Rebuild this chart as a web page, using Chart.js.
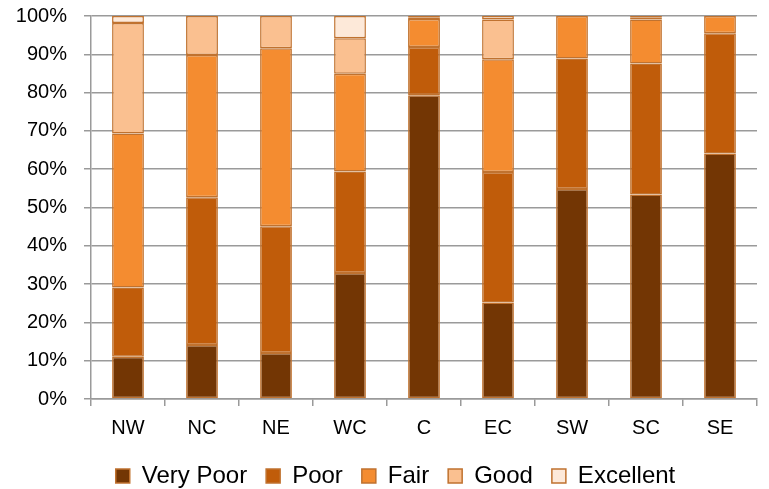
<!DOCTYPE html>
<html>
<head>
<meta charset="utf-8">
<script src="https://cdn.jsdelivr.net/npm/chart.js@4/dist/chart.umd.min.js"></script>
<style>
  html, body { margin: 0; padding: 0; background: #fff; overflow: hidden; }
  #wrap { width: 769px; height: 489px; position: relative; }
</style>
</head>
<body>
<div id="wrap"><canvas id="chart"></canvas></div>
<script>
const categories = ['NW', 'NC', 'NE', 'WC', 'C', 'EC', 'SW', 'SC', 'SE'];

const veryPoor  = [11.0, 14.1, 12.0, 32.9, 79.3, 25.2, 54.8, 53.4, 64.1];
const poor      = [18.1, 38.6, 33.1, 26.5, 12.6, 34.1, 34.1, 34.2, 31.4];
const fair      = [40.2, 37.1, 46.5, 25.5,  7.3, 29.4, 11.1, 11.5,  4.5];
const good      = [28.9, 10.2,  8.4,  9.3,  0.5, 10.4,  0.0,  0.6,  0.0];
const excellent = [ 1.8,  0.0,  0.0,  5.8,  0.3,  0.9,  0.0,  0.3,  0.0];

const yTicks = [0, 10, 20, 30, 40, 50, 60, 70, 80, 90, 100];

const fontFamily = "'Liberation Sans', Arial, sans-serif";
const gridColor = '#9a9a9a';
const edgeColor = '#c0722f';

Chart.defaults.font.family = fontFamily;
Chart.defaults.color = '#000';

const series = [
  { label: 'Very Poor', data: veryPoor,  color: '#733604' },
  { label: 'Poor',      data: poor,      color: '#c05c0a' },
  { label: 'Fair',      data: fair,      color: '#f48c30' },
  { label: 'Good',      data: good,      color: '#fac090' },
  { label: 'Excellent', data: excellent, color: '#fde9d9' },
];

// nudge the legend a little so it sits where the original has it
const legendShift = {
  id: 'legendShift',
  afterLayout(chart) {
    const lg = chart.legend;
    if (!lg) return;
    lg.top += 9;
    lg.bottom += 9;
    lg.left += 17;
    lg.right += 17;
  }
};

new Chart(document.getElementById('chart'), {
  type: 'bar',
  data: {
    labels: categories,
    datasets: series.map(s => ({
      label: s.label,
      data: s.data,
      backgroundColor: s.color,
      borderColor: edgeColor,
      borderWidth: 1.5,
      borderSkipped: false,
      barPercentage: 0.43,
      categoryPercentage: 1,
    }))
  },
  options: {
    responsive: true,
    maintainAspectRatio: false,
    animation: false,
    layout: { padding: { left: 0, right: 12, top: 16, bottom: 0 } },
    plugins: {
      tooltip: { enabled: false },
      legend: {
        position: 'bottom',
        labels: {
          boxWidth: 14,
          boxHeight: 14,
          padding: 19,
          color: '#000',
          font: { size: 24, family: fontFamily }
        }
      }
    },
    scales: {
      x: {
        stacked: true,
        afterFit: scale => { scale.height = 37; },
        grid: {
          offset: true,
          drawOnChartArea: false,
          drawTicks: true,
          tickLength: 7,
          color: gridColor,
          lineWidth: 1.5
        },
        border: { display: true, color: gridColor, width: 1.5 },
        ticks: { padding: 10, font: { size: 20 }, color: '#000' }
      },
      y: {
        stacked: true,
        min: 0,
        max: 100,
        afterFit: scale => {
          scale.width = 91;
          scale.paddingTop = 0;
          scale.paddingBottom = 0;
        },
        afterBuildTicks: scale => { scale.ticks = yTicks.map(v => ({ value: v })); },
        grid: {
          drawTicks: true,
          tickLength: 7,
          color: gridColor,
          lineWidth: 1.5
        },
        border: { display: true, color: gridColor, width: 1.5 },
        ticks: {
          padding: 17,
          font: { size: 20 },
          color: '#000',
          callback: v => v + '%'
        }
      }
    }
  },
  plugins: [legendShift]
});
</script>
</body>
</html>
